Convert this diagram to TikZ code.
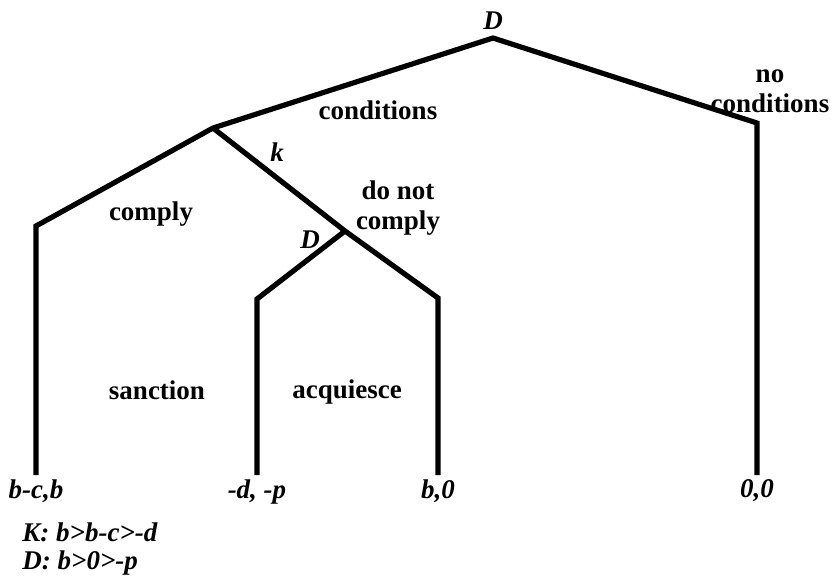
\documentclass[tikz,border=0pt]{standalone}
\usepackage{fontspec}
\setmainfont{Liberation Serif}
\usetikzlibrary{positioning}
\begin{document}
\begin{tikzpicture}[x=0.5pt,y=-0.5pt,
    branch/.style={line width=2.6pt, line join=miter},
    move/.style={font=\fontsize{13.5}{15}\selectfont\bfseries, align=center, inner sep=0pt},
    player/.style={font=\fontsize{13.5}{15}\selectfont\bfseries\itshape, inner sep=0pt},
    payoff/.style={font=\fontsize{13.5}{15}\selectfont\bfseries\itshape, inner sep=0pt}]
    \useasboundingbox (0,0) rectangle (832,584);

    % decision nodes and corners
    \coordinate (root) at (493,38);
    \coordinate (kn) at (213,128);
    \coordinate (dn) at (345,231);
    \coordinate (nc) at (757,123);
    \coordinate (cp) at (36,226);
    \coordinate (sc) at (257,299);
    \coordinate (aq) at (438,298);
    % leaves
    \coordinate (leafA) at (36,475);
    \coordinate (leafB) at (257,475);
    \coordinate (leafC) at (438,475);
    \coordinate (leafD) at (757,475);

    % branches
    \draw[branch] (leafA) -- (cp) -- (kn) -- (root) -- (nc) -- (leafD);
    \draw[branch] (kn) -- (dn) -- (aq) -- (leafC);
    \draw[branch] (dn) -- (sc) -- (leafB);

    % players
    \node[player] (pD) at (493,21) {D};
    \node[player] (pk) at (277,152) {k};
    \node[player] (pD2) at (310,240) {D};

    % moves
    \node[move] (mcond) at (378,110) {conditions};
    \node[move] (mnocond) at (770,91) {no\\conditions};
    \node[move] (mcomply) at (151,214) {comply};
    \node[move] (mnot) at (398,208) {do not\\comply};
    \node[move] (msanc) at (157,390) {sanction};
    \node[move] (macq) at (347,392) {acquiesce};

    % payoffs
    \node[payoff, below=2pt of leafA] (oA) {b-c,b};
    \node[payoff, below=2pt of leafB] (oB) {-d, -p};
    \node[payoff, below=2pt of leafC] (oC) {b,0};
    \node[payoff, below=2pt of leafD] (oD) {0,0};

    % preferences
    \node[payoff, anchor=west] (prefK) at (22,532) {K: b>b-c>-d};
    \node[payoff, below=4pt of prefK.south west, anchor=north west] (prefD) {D: b>0>-p};
\end{tikzpicture}
\end{document}
